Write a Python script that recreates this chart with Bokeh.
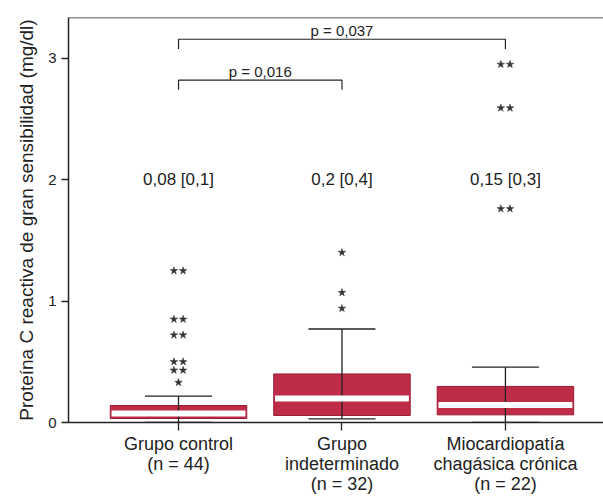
from bokeh.plotting import figure
from bokeh.models import FixedTicker, Span, Range1d
from bokeh.embed import file_html
from bokeh.resources import INLINE
from bokeh.core.properties import value

# ---- data ----
groups = ["Grupo control\n(n = 44)",
          "Grupo\nindeterminado\n(n = 32)",
          "Miocardiopatía\nchagásica crónica\n(n = 22)"]
group_pos = [1, 2, 3]
q1 = [0.033, 0.058, 0.063]
median = [0.075, 0.198, 0.145]
q3 = [0.14, 0.40, 0.297]
whisk_lo = [0.0, 0.03, 0.0]
whisk_hi = [0.217, 0.77, 0.456]
summary = ["0,08 [0,1]", "0,2 [0,4]", "0,15 [0,3]"]

outlier_group = [1, 1, 1, 1, 1, 1, 2, 2, 2, 3, 3, 3]
outlier_value = [1.25, 0.85, 0.72, 0.50, 0.43, 0.33, 1.40, 1.07, 0.94, 2.95, 2.59, 1.76]
outlier_count = [2, 2, 2, 2, 2, 1, 1, 1, 1, 2, 2, 2]

comp_from = [1, 1]
comp_to = [2, 3]
comp_label = ["p = 0,016", "p = 0,037"]
comp_level = [2.82, 3.157]

FONT = "Liberation Sans"
RED = "#BF2C47"
DARK = "#222222"

y_top = 3.336
p = figure(width=603, height=496, output_backend="svg", toolbar_location=None,
           x_range=Range1d(0.327, 3.6), y_range=Range1d(0, y_top),
           min_border_left=68, min_border_top=17, min_border_right=0, min_border_bottom=74)
p.outline_line_color = None
p.xgrid.visible = False
p.ygrid.visible = False
p.background_fill_color = "white"

box_w = 0.835
cap_w = 0.41

# boxes
p.vbar(x=group_pos, bottom=q1, top=q3, width=box_w, fill_color=RED,
       line_color="#9A1B35", line_width=1)
# whiskers
p.segment(x0=group_pos, x1=group_pos, y0=whisk_lo, y1=whisk_hi, line_color=DARK, line_width=1.3)
p.segment(x0=[g - cap_w / 2 for g in group_pos], x1=[g + cap_w / 2 for g in group_pos],
          y0=whisk_hi, y1=whisk_hi, line_color=DARK, line_width=1.3)
p.segment(x0=[g - cap_w / 2 for g in group_pos], x1=[g + cap_w / 2 for g in group_pos],
          y0=whisk_lo, y1=whisk_lo, line_color=DARK, line_width=1.3)
# medians (white band)
p.segment(x0=[g - box_w / 2 + 0.008 for g in group_pos], x1=[g + box_w / 2 - 0.008 for g in group_pos],
          y0=median, y1=median, line_color="white", line_width=6)

# outliers as stars
sx, sy = [], []
dx = 0.028
for g, v, c in zip(outlier_group, outlier_value, outlier_count):
    if c == 1:
        sx.append(g); sy.append(v)
    else:
        sx.extend([g - dx, g + dx]); sy.extend([v, v])
p.scatter(x=sx, y=sy, marker="star", size=8, fill_color="#333333", line_color="#333333", line_width=0.5)

# summary texts
p.text(x=group_pos, y=[2.0] * 3, text=summary, text_font=value(FONT), text_font_size="17px",
       text_align="center", text_baseline="middle", text_color=DARK)

# comparison brackets
drop = 0.08
for a, b, lab, lev in zip(comp_from, comp_to, comp_label, comp_level):
    p.line(x=[a, a, b, b], y=[lev - drop, lev, lev, lev - drop], line_color=DARK, line_width=1.2)
    p.text(x=[(a + b) / 2], y=[lev], text=[lab], text_font=value(FONT), text_font_size="15px",
           text_align="center", text_baseline="bottom", y_offset=0, text_color=DARK)

# top border
p.add_layout(Span(location=y_top, dimension="width", line_color=DARK, line_width=1.5))

# axes
p.xaxis.ticker = FixedTicker(ticks=group_pos)
p.xaxis.major_label_overrides = {g: lab for g, lab in zip(group_pos, groups)}
p.xaxis.major_label_text_font = FONT
p.xaxis.major_label_text_font_size = "18px"
p.xaxis.major_label_text_color = DARK
p.xaxis.major_label_text_line_height = 1.0
p.xaxis.major_label_standoff = 3
p.xaxis.major_tick_out = 8
p.xaxis.major_tick_in = 0
p.xaxis.minor_tick_line_color = None
p.xaxis.axis_line_color = DARK
p.xaxis.axis_line_width = 1.5
p.xaxis.major_tick_line_color = DARK
p.xaxis.major_tick_line_width = 1.3

p.yaxis.ticker = FixedTicker(ticks=[0, 1, 2, 3])
p.yaxis.major_label_text_font = FONT
p.yaxis.major_label_text_font_size = "15px"
p.yaxis.major_label_text_color = DARK
p.yaxis.major_label_standoff = 5
p.yaxis.major_tick_out = 7
p.yaxis.major_tick_in = 0
p.yaxis.minor_tick_line_color = None
p.yaxis.axis_line_color = DARK
p.yaxis.axis_line_width = 1.5
p.yaxis.major_tick_line_color = DARK
p.yaxis.major_tick_line_width = 1.3
p.yaxis.axis_label = "Proteína C reactiva de gran sensibilidad (mg/dl)"
p.yaxis.axis_label_text_font = FONT
p.yaxis.axis_label_text_font_size = "19px"
p.yaxis.axis_label_text_font_style = "normal"
p.yaxis.axis_label_text_color = DARK
p.yaxis.axis_label_standoff = 8

open("out.html", "w").write(file_html(p, INLINE))
